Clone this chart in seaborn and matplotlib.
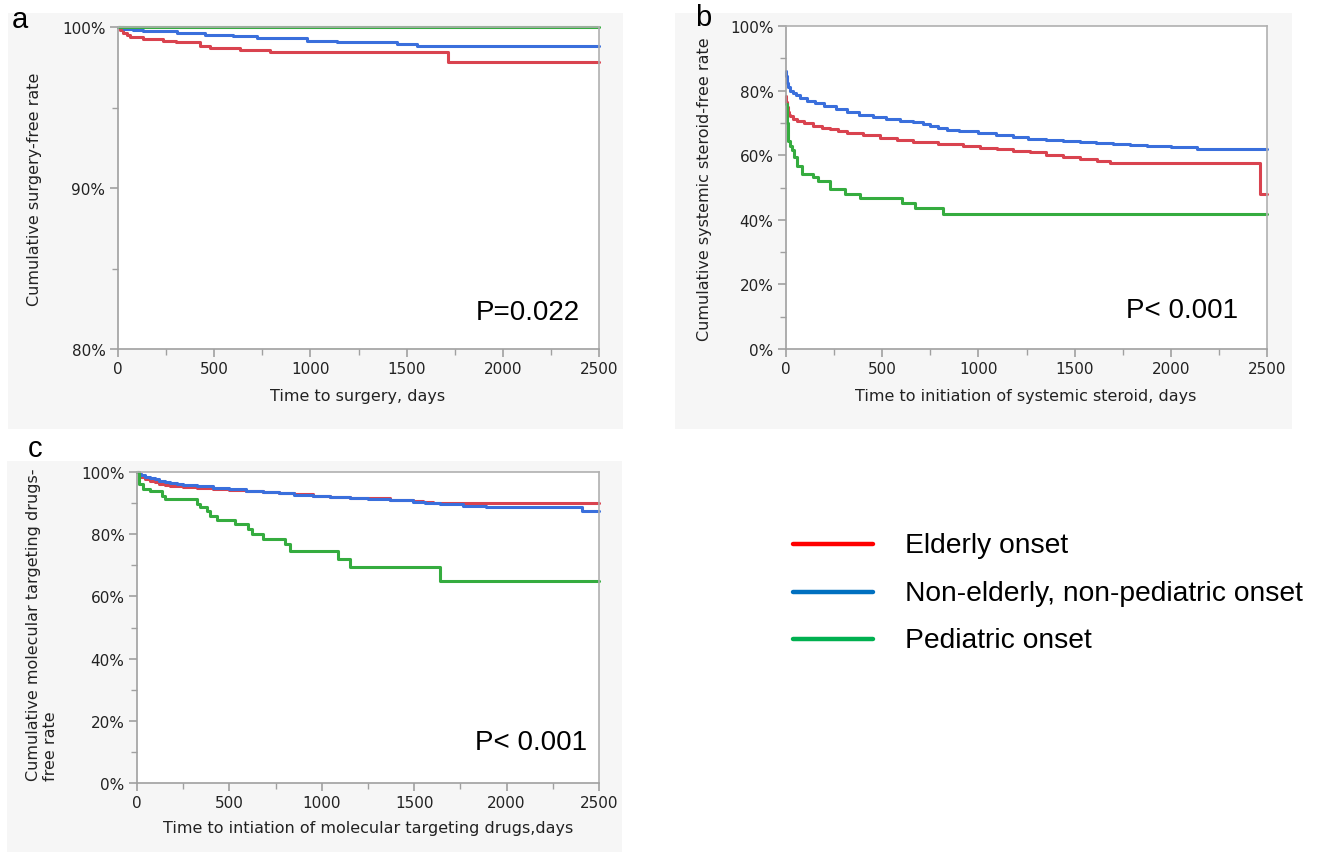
import numpy as np
import pandas as pd
import matplotlib
matplotlib.use("Agg")
import matplotlib.pyplot as plt
import seaborn as sns
from matplotlib.patches import Rectangle
from matplotlib.lines import Line2D
from matplotlib.ticker import MultipleLocator, FuncFormatter

# ---------------- data ----------------
groups = ["Elderly onset", "Non-elderly, non-pediatric onset", "Pediatric onset"]

# Panel a: surgery-free
a_red_t = [0, 10, 25, 45, 62, 132, 235, 300, 426, 478, 634, 790, 1717, 2500]
a_red_s = [100, 99.8, 99.65, 99.5, 99.4, 99.25, 99.1, 99.05, 98.85, 98.68, 98.55, 98.45, 97.8, 97.8]
a_blue_t = [0, 30, 80, 132, 305, 450, 600, 721, 981, 1137, 1449, 1553, 2500]
a_blue_s = [100, 99.88, 99.8, 99.73, 99.6, 99.52, 99.46, 99.32, 99.15, 99.05, 98.94, 98.84, 98.84]
a_green_t = [0, 2500]
a_green_s = [100, 100]

# Panel b: systemic steroid-free
b_red_t = [0, 2, 4, 8, 14, 20, 35, 55, 95, 142, 185, 230, 270, 315, 400, 488, 575, 662,
           790, 922, 1010, 1095, 1180, 1268, 1350, 1441, 1530, 1615, 1684, 2464, 2500]
b_red_s = [78.4, 76.5, 75.0, 73.3, 72.6, 72.0, 71.3, 70.7, 69.9, 69.1, 68.5, 68.0, 67.4, 66.9,
           66.1, 65.3, 64.7, 64.2, 63.5, 62.8, 62.3, 61.9, 61.4, 60.9, 60.1, 59.3, 58.8, 58.3,
           57.6, 48.0, 48.0]
b_blue_t = [0, 2, 5, 10, 21, 35, 50, 75, 107, 150, 200, 260, 315, 380, 450, 520, 590, 662,
            710, 750, 790, 835, 900, 1000, 1090, 1181, 1260, 1350, 1440, 1528, 1610, 1702,
            1790, 1875, 2000, 2135, 2500]
b_blue_s = [86.2, 84.5, 82.5, 81.2, 80.0, 79.3, 78.6, 77.8, 76.9, 76.1, 75.2, 74.2, 73.3,
            72.6, 71.9, 71.2, 70.7, 70.2, 69.6, 69.0, 68.4, 67.9, 67.5, 66.9, 66.2, 65.5,
            65.1, 64.8, 64.5, 64.2, 63.8, 63.5, 63.1, 62.8, 62.4, 61.9, 61.9]
b_green_t = [0, 3, 8, 12, 20, 30, 42, 55, 82, 142, 168, 229, 307, 385, 601, 670, 818, 2500]
b_green_s = [76.0, 70.0, 66.6, 64.5, 62.9, 61.5, 59.3, 56.7, 54.2, 53.2, 51.9, 49.5, 48.0,
             46.7, 45.2, 43.6, 41.8, 41.8]

# Panel c: molecular targeting drugs-free
c_red_t = [0, 10, 20, 45, 70, 95, 120, 150, 179, 250, 323, 410, 500, 590, 683, 770, 850,
           950, 1044, 1150, 1250, 1370, 1495, 1550, 1603, 2500]
c_red_s = [100, 99.2, 98.5, 97.8, 97.2, 96.7, 96.3, 95.9, 95.6, 95.2, 94.8, 94.4, 94.1,
           93.8, 93.5, 93.1, 92.8, 92.4, 92.1, 91.8, 91.5, 91.1, 90.8, 90.3, 89.9, 89.9]
c_blue_t = [0, 10, 20, 45, 70, 95, 120, 150, 179, 215, 250, 323, 410, 500, 590, 683, 770,
            850, 950, 1044, 1150, 1250, 1370, 1495, 1560, 1640, 1766, 1890, 2018, 2406, 2500]
c_blue_s = [100, 99.5, 98.9, 98.4, 98.0, 97.6, 97.2, 96.8, 96.5, 96.2, 95.9, 95.4, 94.9,
            94.4, 93.9, 93.5, 93.1, 92.7, 92.3, 91.9, 91.5, 91.2, 90.9, 90.5, 90.1, 89.7,
            89.2, 88.9, 88.6, 87.6, 87.6]
c_green_t = [0, 10, 34, 70, 133, 152, 323, 341, 377, 395, 431, 530, 602, 620, 683, 801, 828,
             1089, 1153, 1640, 2500]
c_green_s = [100, 96.1, 94.5, 93.8, 92.4, 91.3, 89.7, 88.6, 87.6, 85.9, 84.6, 83.3, 81.7,
             80.1, 78.5, 76.8, 74.7, 72.0, 69.4, 64.9, 64.9]

p_texts = ["P=0.022", "P< 0.001", "P< 0.001"]
ylabels = ["Cumulative surgery-free rate",
           "Cumulative systemic steroid-free rate",
           "Cumulative molecular targeting drugs-\nfree rate"]
xlabels = ["Time to surgery, days",
           "Time to initiation of systemic steroid, days",
           "Time to intiation of molecular targeting drugs,days"]

curve_colors = ["#d9434f", "#3a6fdc", "#35ac3f"]
legend_colors = ["#ff0000", "#0070c0", "#00b050"]

# ---------------- style ----------------
sns.set_theme(style="white")
plt.rcParams["font.family"] = ["DejaVu Sans"]

W, H = 1317, 854
fig = plt.figure(figsize=(W / 100, H / 100), dpi=100)
fig.patch.set_facecolor("white")


def rect(x0, y0, x1, y1):
    return [x0 / W, 1 - y1 / H, (x1 - x0) / W, (y1 - y0) / H]


def fx(x):
    return x / W


def fy(y):
    return 1 - y / H


# panel backgrounds
for (x0, y0, x1, y1) in [(8, 14, 623, 430), (675, 14, 1292, 430), (7, 462, 622, 853)]:
    fig.patches.append(Rectangle((x0 / W, 1 - y1 / H), (x1 - x0) / W, (y1 - y0) / H,
                                 transform=fig.transFigure, facecolor="#f6f6f6",
                                 edgecolor="none", zorder=-10))


def km(ax, series, ylim, ymaj, ymin):
    frames = []
    for g, (t, s) in zip(groups, series):
        frames.append(pd.DataFrame({"t": t, "s": s, "g": g}))
    df = pd.concat(frames, ignore_index=True)
    sns.lineplot(data=df, x="t", y="s", hue="g", hue_order=groups,
                 palette=curve_colors, estimator=None, sort=False,
                 drawstyle="steps-post", linewidth=2.2, legend=False,
                 ax=ax, clip_on=False)
    ax.set_xlim(0, 2500)
    ax.set_ylim(*ylim)
    ax.xaxis.set_major_locator(MultipleLocator(500))
    ax.xaxis.set_minor_locator(MultipleLocator(250))
    ax.yaxis.set_major_locator(MultipleLocator(ymaj))
    ax.yaxis.set_minor_locator(MultipleLocator(ymin))
    ax.yaxis.set_major_formatter(FuncFormatter(lambda v, p: f"{v:.0f}%"))
    ax.set_xlabel("")
    ax.set_ylabel("")
    ax.set_facecolor("white")
    for sp in ax.spines.values():
        sp.set_visible(True)
        sp.set_color("#b0b0b0")
        sp.set_linewidth(1.2)
    ax.spines["left"].set_color("#a0a0a0")
    ax.spines["bottom"].set_color("#a0a0a0")
    ax.tick_params(which="both", direction="out", color="#a0a0a0",
                   labelsize=11, labelcolor="#222222", bottom=True, left=True)
    ax.tick_params(which="major", length=6, width=1.2, pad=3)
    ax.tick_params(which="minor", length=4, width=1.0)


ax_a = fig.add_axes(rect(118, 28, 599, 350))
km(ax_a, [(a_red_t, a_red_s), (a_blue_t, a_blue_s), (a_green_t, a_green_s)], (80, 100), 10, 5)

ax_b = fig.add_axes(rect(786, 27, 1267, 350))
km(ax_b, [(b_red_t, b_red_s), (b_blue_t, b_blue_s), (b_green_t, b_green_s)], (0, 100), 20, 10)

ax_c = fig.add_axes(rect(137, 473, 599, 784))
km(ax_c, [(c_red_t, c_red_s), (c_blue_t, c_blue_s), (c_green_t, c_green_s)], (0, 100), 20, 10)

# axis labels
lab_kw = dict(fontsize=11.5, color="#222222")
fig.text(fx(35), fy(189), ylabels[0], rotation=90, ha="center", va="center", **lab_kw)
fig.text(fx(704), fy(189), ylabels[1], rotation=90, ha="center", va="center", **lab_kw)
fig.text(fx(42), fy(781), ylabels[2], rotation=90, ha="center", va="bottom",
         multialignment="left", linespacing=1.15, **lab_kw)
fig.text(fx(358), fy(397), xlabels[0], ha="center", va="center", **lab_kw)
fig.text(fx(1026), fy(397), xlabels[1], ha="center", va="center", **lab_kw)
fig.text(fx(368), fy(829), xlabels[2], ha="center", va="center", **lab_kw)

# panel letters
let_kw = dict(fontsize=21, color="black", family=["Liberation Sans", "DejaVu Sans"])
fig.text(fx(20), fy(20), "a", ha="center", va="center", **let_kw)
fig.text(fx(703), fy(18), "b", ha="center", va="center", **let_kw)
fig.text(fx(35), fy(449), "c", ha="center", va="center", **let_kw)

# p values
p_kw = dict(fontsize=20, color="black", family=["Liberation Sans", "DejaVu Sans"])
fig.text(fx(580), fy(313), p_texts[0], ha="right", va="center", **p_kw)
fig.text(fx(1238), fy(311), p_texts[1], ha="right", va="center", **p_kw)
fig.text(fx(587), fy(743), p_texts[2], ha="right", va="center", **p_kw)

# legend
for i, (g, col) in enumerate(zip(groups, legend_colors)):
    yy = [545, 593, 640][i]
    fig.add_artist(Line2D([fx(793), fx(873)], [fy(yy), fy(yy)], color=col,
                          linewidth=3.2, transform=fig.transFigure))
    fig.text(fx(905), fy(yy + 1), g, ha="left", va="center", fontsize=20.3,
             color="black", family=["Liberation Sans", "DejaVu Sans"])

fig.savefig("out.png", dpi=100)
